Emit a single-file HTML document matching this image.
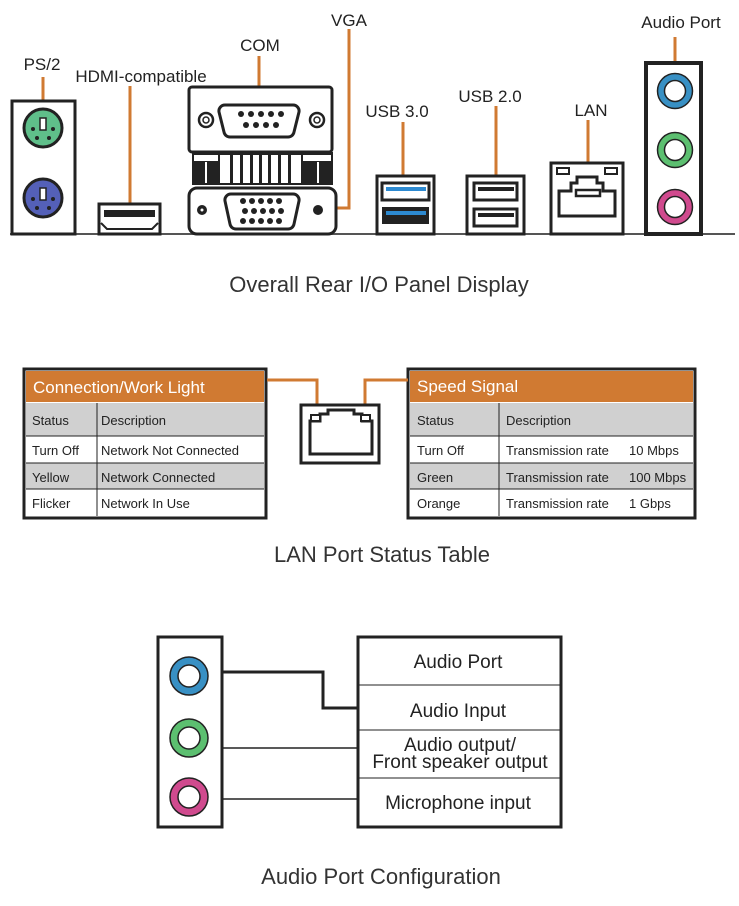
<!DOCTYPE html>
<html><head><meta charset="utf-8"><style>
html,body{margin:0;padding:0;background:#fff;}
svg{display:block;font-family:"Liberation Sans","DejaVu Sans",sans-serif;}
</style></head><body>
<svg width="739" height="906" viewBox="0 0 739 906" xmlns="http://www.w3.org/2000/svg">
<g fill="none" stroke="#d07a32" stroke-width="3">
<line x1="43" y1="77" x2="43" y2="110"/>
<line x1="130" y1="86" x2="130" y2="205"/>
<line x1="259" y1="56" x2="259" y2="93"/>
<polyline points="349,29 349,208 320,208"/>
<line x1="403" y1="122" x2="403" y2="178"/>
<line x1="496" y1="106" x2="496" y2="182"/>
<line x1="588" y1="120" x2="588" y2="172"/>
<line x1="675" y1="37" x2="675" y2="66"/>
</g>
<g font-size="17" fill="#222" text-anchor="middle">
<text x="42" y="70">PS/2</text>
<text x="141" y="82">HDMI-compatible</text>
<text x="260" y="51">COM</text>
<text x="349" y="26">VGA</text>
<text x="397" y="117">USB 3.0</text>
<text x="490" y="102">USB 2.0</text>
<text x="591" y="116">LAN</text>
<text x="681" y="28">Audio Port</text>
</g>
<line x1="10" y1="234" x2="735" y2="234" stroke="#555" stroke-width="2"/>
<!-- PS2 -->
<rect x="12" y="101" width="63" height="133" fill="#fff" stroke="#222" stroke-width="3"/>
<circle cx="43" cy="128" r="19" fill="#5fbf8a" stroke="#222" stroke-width="3"/>
<circle cx="43" cy="198" r="19" fill="#5460b8" stroke="#222" stroke-width="3"/>
<rect x="40" y="118" width="6" height="12" fill="#fff" stroke="#222" stroke-width="1.5"/>
<rect x="40" y="188" width="6" height="12" fill="#fff" stroke="#222" stroke-width="1.5"/>
<g fill="#222"><circle cx="33" cy="129" r="2"/><circle cx="53" cy="129" r="2"/><circle cx="37" cy="138" r="2"/><circle cx="49" cy="138" r="2"/>
<circle cx="33" cy="199" r="2"/><circle cx="53" cy="199" r="2"/><circle cx="37" cy="208" r="2"/><circle cx="49" cy="208" r="2"/></g>
<!-- HDMI -->
<rect x="99" y="204" width="61" height="30" fill="#fff" stroke="#222" stroke-width="3"/>
<rect x="104" y="210" width="51" height="7" fill="#222"/>
<polyline points="101,223 107,229 152,229 158,223" fill="none" stroke="#222" stroke-width="2"/>
<!-- COM -->
<rect x="189" y="87" width="143" height="65" rx="3" fill="#fff" stroke="#222" stroke-width="3"/>
<path d="M225,105 h68 a6,6 0 0 1 6,7 l-5,20 a6,6 0 0 1 -6,5 h-58 a6,6 0 0 1 -6,-5 l-5,-20 a6,6 0 0 1 6,-7z" fill="#fff" stroke="#222" stroke-width="3"/>
<g fill="#222"><circle cx="241" cy="114" r="3"/><circle cx="251" cy="114" r="3"/><circle cx="261" cy="114" r="3"/><circle cx="271" cy="114" r="3"/><circle cx="281" cy="114" r="3"/>
<circle cx="246" cy="125" r="3"/><circle cx="256" cy="125" r="3"/><circle cx="266" cy="125" r="3"/><circle cx="276" cy="125" r="3"/></g>
<circle cx="206" cy="120" r="7" fill="#fff" stroke="#222" stroke-width="2.5"/><circle cx="206" cy="120" r="3" fill="none" stroke="#222" stroke-width="1.5"/>
<circle cx="317" cy="120" r="7" fill="#fff" stroke="#222" stroke-width="2.5"/><circle cx="317" cy="120" r="3" fill="none" stroke="#222" stroke-width="1.5"/>
<!-- vents -->
<rect x="192" y="152" width="141" height="33" fill="#222"/>
<g fill="#fff"><rect x="197" y="155" width="1" height="0"/>
<rect x="220" y="155" width="10" height="28"/><rect x="233" y="155" width="7" height="28"/><rect x="243" y="155" width="7" height="28"/><rect x="253" y="155" width="6" height="28"/><rect x="262" y="155" width="6" height="28"/><rect x="271" y="155" width="7" height="28"/><rect x="281" y="155" width="7" height="28"/><rect x="291" y="155" width="10" height="28"/>
<rect x="194" y="155" width="24" height="6"/><rect x="303" y="155" width="28" height="6"/><rect x="205" y="162" width="2" height="21"/><rect x="317" y="162" width="2" height="21"/></g>
<!-- VGA -->
<rect x="189" y="188" width="147" height="46" rx="8" fill="#fff" stroke="#222" stroke-width="3"/>
<path d="M231,194 h62 a6,6 0 0 1 6,7 l-5,23 a6,6 0 0 1 -6,5 h-52 a6,6 0 0 1 -6,-5 l-5,-23 a6,6 0 0 1 6,-7z" fill="#fff" stroke="#222" stroke-width="3"/>
<g fill="#222"><circle cx="243" cy="201" r="3"/><circle cx="252" cy="201" r="3"/><circle cx="261" cy="201" r="3"/><circle cx="270" cy="201" r="3"/><circle cx="279" cy="201" r="3"/>
<circle cx="245" cy="211" r="3"/><circle cx="254" cy="211" r="3"/><circle cx="263" cy="211" r="3"/><circle cx="272" cy="211" r="3"/><circle cx="281" cy="211" r="3"/>
<circle cx="243" cy="221" r="3"/><circle cx="252" cy="221" r="3"/><circle cx="261" cy="221" r="3"/><circle cx="270" cy="221" r="3"/><circle cx="279" cy="221" r="3"/></g>
<circle cx="202" cy="210" r="5" fill="#222"/><circle cx="202" cy="210" r="1.5" fill="#fff"/>
<circle cx="318" cy="210" r="5" fill="#222"/>
<!-- USB3 -->
<rect x="377" y="176" width="57" height="58" fill="#fff" stroke="#222" stroke-width="3"/>
<rect x="382" y="183" width="47" height="17" fill="#fff" stroke="#222" stroke-width="3"/>
<rect x="386" y="187" width="40" height="4" fill="#2d8ad1"/>
<rect x="382" y="207" width="47" height="17" fill="#222"/>
<rect x="386" y="211" width="40" height="4" fill="#2d8ad1"/>
<!-- USB2 -->
<rect x="467" y="176" width="57" height="58" fill="#fff" stroke="#222" stroke-width="3"/>
<rect x="474" y="183" width="43" height="17" fill="#fff" stroke="#222" stroke-width="3"/>
<rect x="478" y="187" width="36" height="4" fill="#222"/>
<rect x="474" y="209" width="43" height="17" fill="#fff" stroke="#222" stroke-width="3"/>
<rect x="478" y="213" width="36" height="4" fill="#222"/>
<!-- LAN -->
<rect x="551" y="163" width="72" height="71" fill="#fff" stroke="#222" stroke-width="3"/>
<rect x="557" y="168" width="12" height="6" fill="#fff" stroke="#222" stroke-width="2"/>
<rect x="605" y="168" width="12" height="6" fill="#fff" stroke="#222" stroke-width="2"/>
<path d="M559,191 h12 v-8 h6 v-6 h20 v6 h6 v8 h12 v25 h-56z" fill="#fff" stroke="#222" stroke-width="3"/>
<rect x="576" y="190" width="24" height="6" fill="#fff" stroke="#222" stroke-width="2.5"/>
<!-- Audio -->
<rect x="646" y="63" width="55" height="171" fill="#fff" stroke="#222" stroke-width="4"/>
<circle cx="675" cy="91" r="14" fill="#fff" stroke="#3890c4" stroke-width="7"/><circle cx="675" cy="91" r="17.5" fill="none" stroke="#222" stroke-width="1.5"/><circle cx="675" cy="91" r="10.5" fill="none" stroke="#222" stroke-width="1.5"/>
<circle cx="675" cy="150" r="14" fill="#fff" stroke="#5cbf70" stroke-width="7"/><circle cx="675" cy="150" r="17.5" fill="none" stroke="#222" stroke-width="1.5"/><circle cx="675" cy="150" r="10.5" fill="none" stroke="#222" stroke-width="1.5"/>
<circle cx="675" cy="207" r="14" fill="#fff" stroke="#d04a8e" stroke-width="7"/><circle cx="675" cy="207" r="17.5" fill="none" stroke="#222" stroke-width="1.5"/><circle cx="675" cy="207" r="10.5" fill="none" stroke="#222" stroke-width="1.5"/>
<text x="379" y="292" font-size="22" fill="#333" text-anchor="middle">Overall Rear I/O Panel Display</text>

<!-- LAN tables -->
<g font-size="13" fill="#222">
<rect x="24" y="369" width="242" height="149" fill="#fff" stroke="#222" stroke-width="3"/>
<rect x="26" y="371" width="238" height="31" fill="#d07a32"/>
<text x="33" y="393" font-size="17" fill="#fff">Connection/Work Light</text>
<rect x="26" y="403" width="238" height="33" fill="#d0d0d0"/>
<rect x="26" y="463" width="238" height="26" fill="#d0d0d0"/>
<g stroke="#222" stroke-width="1"><line x1="97" y1="403" x2="97" y2="516"/><line x1="26" y1="436" x2="264" y2="436"/><line x1="26" y1="463" x2="264" y2="463"/><line x1="26" y1="489" x2="264" y2="489"/></g>
<text x="32" y="425">Status</text><text x="101" y="425">Description</text>
<text x="32" y="455">Turn Off</text><text x="101" y="455">Network Not Connected</text>
<text x="32" y="482">Yellow</text><text x="101" y="482">Network Connected</text>
<text x="32" y="508">Flicker</text><text x="101" y="508">Network In Use</text>

<rect x="408" y="369" width="287" height="149" fill="#fff" stroke="#222" stroke-width="3"/>
<rect x="410" y="371" width="283" height="31" fill="#d07a32"/>
<text x="417" y="392" font-size="17" fill="#fff">Speed Signal</text>
<rect x="410" y="403" width="283" height="33" fill="#d0d0d0"/>
<rect x="410" y="463" width="283" height="26" fill="#d0d0d0"/>
<g stroke="#222" stroke-width="1"><line x1="499" y1="403" x2="499" y2="516"/><line x1="410" y1="436" x2="693" y2="436"/><line x1="410" y1="463" x2="693" y2="463"/><line x1="410" y1="489" x2="693" y2="489"/></g>
<text x="417" y="425">Status</text><text x="506" y="425">Description</text>
<text x="417" y="455">Turn Off</text><text x="506" y="455">Transmission rate</text><text x="629" y="455">10 Mbps</text>
<text x="417" y="482">Green</text><text x="506" y="482">Transmission rate</text><text x="629" y="482">100 Mbps</text>
<text x="417" y="508">Orange</text><text x="506" y="508">Transmission rate</text><text x="629" y="508">1 Gbps</text>
</g>
<polyline points="267,380 317,380 317,416" fill="none" stroke="#d07a32" stroke-width="3"/>
<polyline points="408,380 365,380 365,416" fill="none" stroke="#d07a32" stroke-width="3"/>
<rect x="301" y="405" width="78" height="58" fill="#fff" stroke="#222" stroke-width="3"/>
<path d="M310,421 h10 v-7 h8 v-4 h26 v4 h8 v7 h10 v33 h-62z" fill="#fff" stroke="#222" stroke-width="3"/>
<rect x="311" y="415" width="9" height="6" fill="#fff" stroke="#222" stroke-width="2"/>
<rect x="361" y="415" width="9" height="6" fill="#fff" stroke="#222" stroke-width="2"/>
<text x="382" y="562" font-size="22" fill="#333" text-anchor="middle">LAN Port Status Table</text>

<!-- Audio config -->
<rect x="158" y="637" width="64" height="190" fill="#fff" stroke="#222" stroke-width="3"/>
<circle cx="189" cy="676" r="15" fill="#fff" stroke="#3890c4" stroke-width="8"/><circle cx="189" cy="676" r="19" fill="none" stroke="#222" stroke-width="1.5"/><circle cx="189" cy="676" r="11" fill="none" stroke="#222" stroke-width="1.5"/>
<circle cx="189" cy="738" r="15" fill="#fff" stroke="#5cbf70" stroke-width="8"/><circle cx="189" cy="738" r="19" fill="none" stroke="#222" stroke-width="1.5"/><circle cx="189" cy="738" r="11" fill="none" stroke="#222" stroke-width="1.5"/>
<circle cx="189" cy="797" r="15" fill="#fff" stroke="#d04a8e" stroke-width="8"/><circle cx="189" cy="797" r="19" fill="none" stroke="#222" stroke-width="1.5"/><circle cx="189" cy="797" r="11" fill="none" stroke="#222" stroke-width="1.5"/>
<polyline points="222,672 323,672 323,708 357,708" fill="none" stroke="#222" stroke-width="3"/>
<line x1="222" y1="748" x2="357" y2="748" stroke="#222" stroke-width="1.5"/>
<line x1="222" y1="799" x2="357" y2="799" stroke="#222" stroke-width="1.5"/>
<rect x="358" y="637" width="203" height="190" fill="#fff" stroke="#222" stroke-width="3"/>
<g stroke="#222" stroke-width="1"><line x1="358" y1="685" x2="561" y2="685"/><line x1="358" y1="730" x2="561" y2="730"/><line x1="358" y1="778" x2="561" y2="778"/></g>
<g font-size="19" fill="#222" text-anchor="middle">
<text x="458" y="668">Audio Port</text>
<text x="458" y="717">Audio Input</text>
<text x="460" y="751">Audio output/</text>
<text x="460" y="768">Front speaker output</text>
<text x="458" y="809">Microphone input</text>
</g>
<text x="381" y="884" font-size="22" fill="#333" text-anchor="middle">Audio Port Configuration</text>
</svg>
</body></html>
